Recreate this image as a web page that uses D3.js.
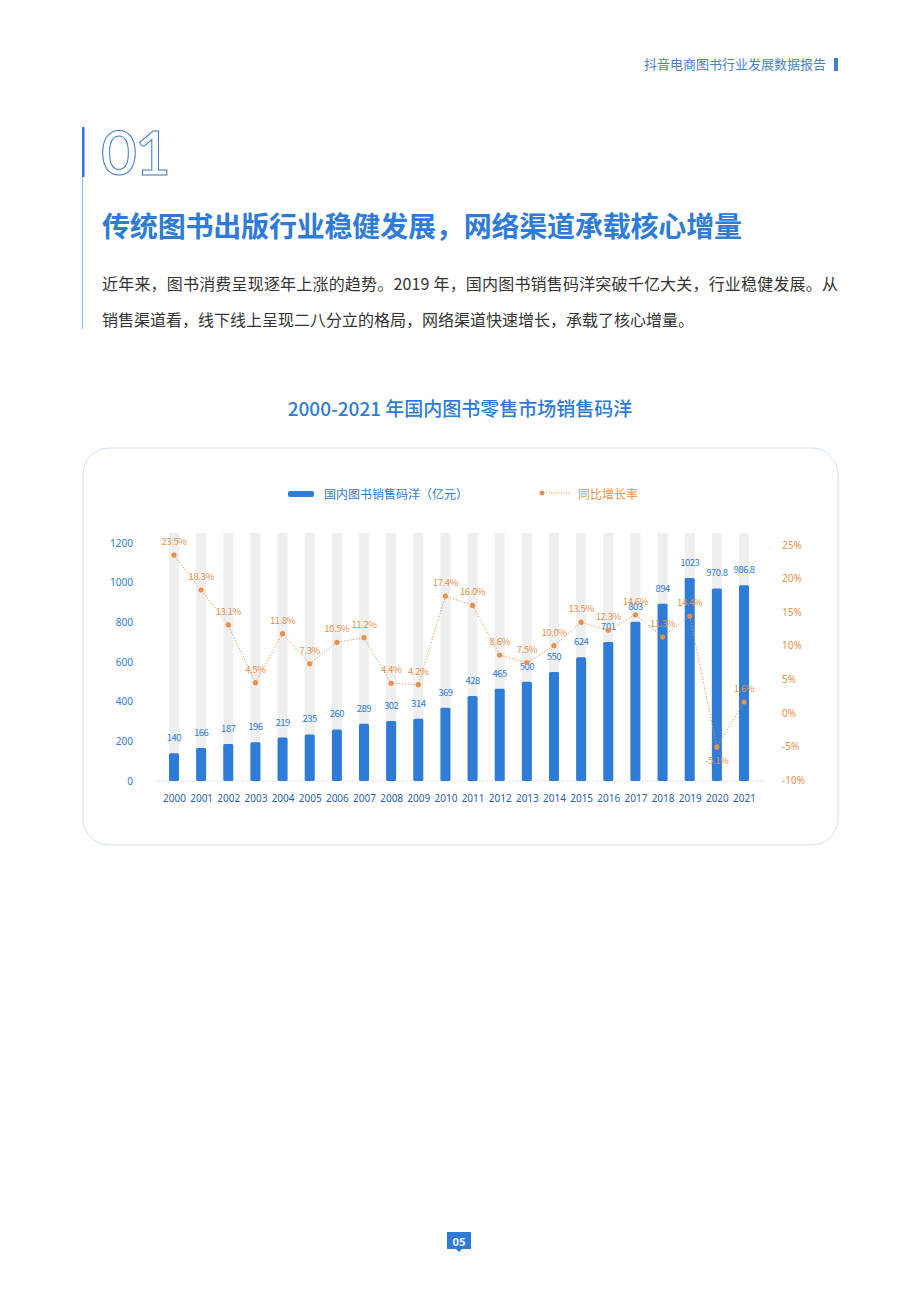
<!DOCTYPE html>
<html><head><meta charset="utf-8">
<script src="https://cdn.jsdelivr.net/npm/d3@7/dist/d3.min.js"></script>
<style>body{margin:0;background:#fff;font-family:"Noto Sans CJK SC","Noto Sans",sans-serif}</style>
</head><body><svg id="c" width="920" height="1304"></svg>
<script>
const years=["2000","2001","2002","2003","2004","2005","2006","2007","2008","2009","2010","2011","2012","2013","2014","2015","2016","2017","2018","2019","2020","2021"];
const sales=[140,166,187,196,219,235,260,289,302,314,369,428,465,500,550,624,701,803,894,1023,970.8,986.8];
const growth=[23.5,18.3,13.1,4.5,11.8,7.3,10.5,11.2,4.4,4.2,17.4,16.0,8.6,7.5,10.0,13.5,12.3,14.6,11.3,14.4,-5.1,1.6];
const leftTicks=[0,200,400,600,800,1000,1200];
const rightTicks=[-10,-5,0,5,10,15,20,25];

const svg=d3.select("#c");
const blue="#2e7bd8",orange="#e8914a";
svg.append("text").attr("x",826).attr("y",69).attr("text-anchor","end").attr("font-size",13).attr("fill","#4a7fc8").text("抖音电商图书行业发展数据报告");
svg.append("rect").attr("x",834).attr("y",58).attr("width",4).attr("height",13).attr("fill","#4a7fc8");
svg.append("rect").attr("x",82).attr("y",127).attr("width",2.5).attr("height",50).attr("fill",blue);
svg.append("rect").attr("x",82).attr("y",177).attr("width",1).attr("height",152).attr("fill","#9bbbe6");
svg.append("text").attr("x",101).attr("y",175).attr("font-size",62).attr("font-family","Lato,sans-serif").attr("font-weight",600)
 .attr("fill","none").attr("stroke","#3a78c9").attr("stroke-width",1).attr("letter-spacing",-2).text("01");
svg.append("text").attr("x",102).attr("y",237).attr("font-size",28).attr("font-weight",700).attr("fill",blue).attr("textLength",640).text("传统图书出版行业稳健发展，网络渠道承载核心增量");
svg.append("text").attr("x",102).attr("y",290).attr("font-size",16).attr("fill","#333").attr("textLength",736).text("近年来，图书消费呈现逐年上涨的趋势。2019 年，国内图书销售码洋突破千亿大关，行业稳健发展。从");
svg.append("text").attr("x",102).attr("y",326).attr("font-size",16).attr("fill","#333").text("销售渠道看，线下线上呈现二八分立的格局，网络渠道快速增长，承载了核心增量。");
svg.append("text").attr("x",460).attr("y",416).attr("text-anchor","middle").attr("font-size",19).attr("fill",blue).attr("font-weight",500).text("2000-2021 年国内图书零售市场销售码洋");
svg.append("rect").attr("x",83).attr("y",448).attr("width",755).attr("height",397).attr("rx",26).attr("fill","#fff").attr("stroke","#d3e1ec");
svg.append("rect").attr("x",288).attr("y",491).attr("width",26).attr("height",6).attr("rx",2).attr("fill",blue);
svg.append("text").attr("x",324).attr("y",499).attr("font-size",12).attr("fill",blue).text("国内图书销售码洋（亿元）");
svg.append("circle").attr("cx",542).attr("cy",493).attr("r",2.5).attr("fill",orange);
svg.append("line").attr("x1",546).attr("x2",570).attr("y1",493).attr("y2",493).attr("stroke",orange).attr("stroke-dasharray","1,1.5");
svg.append("text").attr("x",578).attr("y",499).attr("font-size",12).attr("fill",orange).text("同比增长率");

const x=d3.scalePoint().domain(years).range([174,744]);
const y=d3.scaleLinear().domain([0,1200]).range([781,543]);
const y2=d3.scaleLinear().domain([-10,25]).range([780,545]);
const bw=10;
svg.append("g").selectAll("rect").data(years).join("rect").attr("x",d=>x(d)-bw/2).attr("y",533).attr("width",bw).attr("height",781-533).attr("fill","#efefef");
svg.append("line").attr("x1",157).attr("x2",763).attr("y1",781).attr("y2",781).attr("stroke","#ccc").attr("stroke-dasharray","1,1.5");
svg.append("g").selectAll("rect").data(sales).join("rect").attr("x",(d,i)=>x(years[i])-bw/2).attr("y",d=>y(d)).attr("width",bw).attr("height",d=>781-y(d)).attr("rx",1.5).attr("fill",blue);
svg.append("g").selectAll("text").data(sales).join("text").attr("x",(d,i)=>x(years[i])).attr("y",d=>y(d)-12).attr("text-anchor","middle").attr("font-size",9.5).attr("fill",blue).attr("letter-spacing",-0.5).text(d=>d);
const la=svg.append("g").attr("transform","translate(133,0)").call(d3.axisLeft(y).tickValues(leftTicks).tickSize(0).tickPadding(0).tickFormat(d=>String(d)));
const ra=svg.append("g").attr("transform","translate(782,0)").call(d3.axisRight(y2).tickValues(rightTicks).tickSize(0).tickPadding(0).tickFormat(d=>d+"%"));
const xa=svg.append("g").attr("transform","translate(0,795)").call(d3.axisBottom(x).tickSize(0).tickPadding(0));
[la,ra,xa].forEach(a=>{a.select(".domain").remove();a.selectAll("text").attr("font-size",10).attr("font-family","'Noto Sans',sans-serif");});
la.selectAll("text").attr("fill",blue);xa.selectAll("text").attr("fill","#2a5fa8").attr("dy","0.7em");
ra.selectAll("text").attr("fill",orange);
const line=d3.line().x((d,i)=>x(years[i])).y(d=>y2(d));
svg.append("path").datum(growth).attr("d",line).attr("fill","none").attr("stroke",orange).attr("stroke-width",1).attr("stroke-dasharray","1.2,1.8");
svg.append("g").selectAll("circle").data(growth).join("circle").attr("cx",(d,i)=>x(years[i])).attr("cy",d=>y2(d)).attr("r",2.6).attr("fill",orange);
svg.append("g").selectAll("text").data(growth).join("text").attr("x",(d,i)=>x(years[i])).attr("y",(d,i)=>d<0?y2(d)+17:y2(d)-10).attr("text-anchor","middle").attr("font-size",9.5).attr("fill",orange).attr("letter-spacing",-0.4).text(d=>d.toFixed(1)+"%");
svg.append("path").attr("d","M447,1232 h24 v17 h-9 l-3,3 l-3,-3 h-9 z").attr("fill",blue);
svg.append("text").attr("x",459).attr("y",1246).attr("text-anchor","middle").attr("font-size",11).attr("font-weight",700).attr("fill","#fff").text("05");
</script></body></html>
